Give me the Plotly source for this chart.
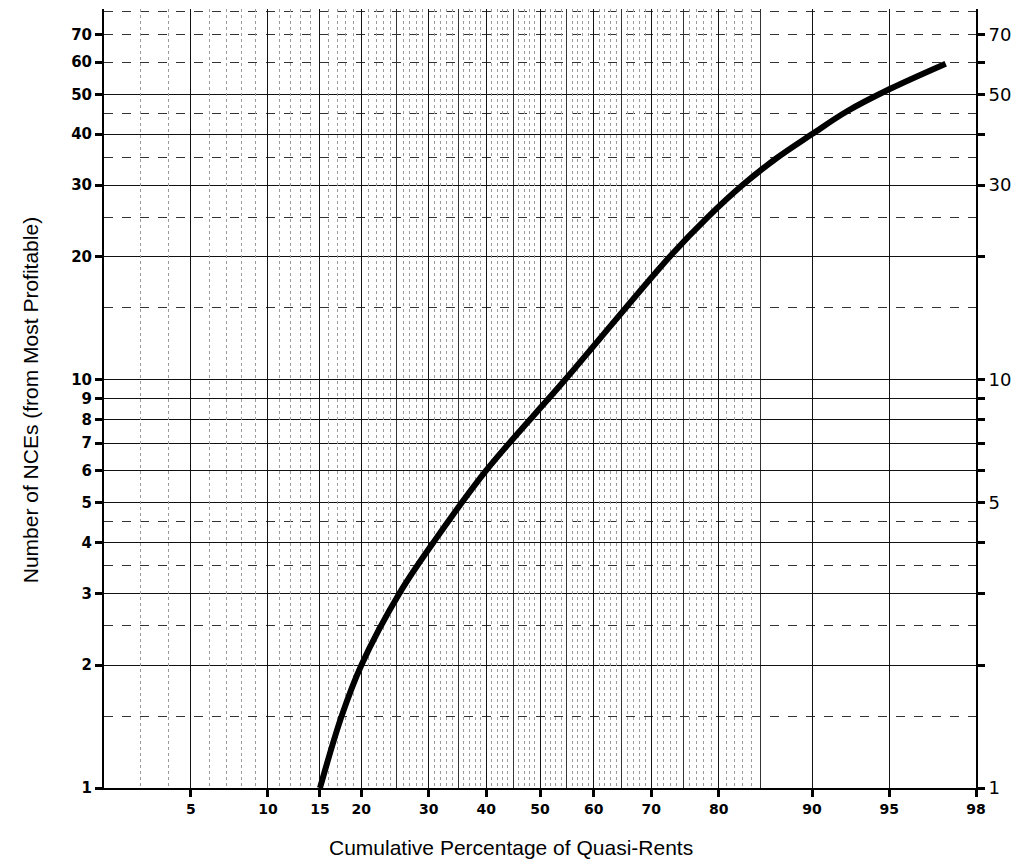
import math
from statistics import NormalDist
import plotly.graph_objects as go

# ---------------- data ----------------
pct = [15, 17.5, 20, 25.4, 30.8, 40, 54.7, 72.9, 78.5, 83, 86.8, 90, 92.6, 95, 97.2]
nce = [1, 1.5, 2, 3, 4, 6, 10, 20, 25, 30, 35, 40, 45.5, 51.5, 59.5]

x_labels = [5, 10, 15, 20, 30, 40, 50, 60, 70, 80, 90, 95, 98]
x_solid_extra = [25, 35, 45, 55, 65, 75, 85]
x_dotted = [p for p in range(3, 85) if p % 5 != 0]

y_left_ticks = [1, 2, 3, 4, 5, 6, 7, 8, 9, 10, 20, 30, 40, 50, 60, 70]
y_right_labels = [1, 5, 10, 30, 50, 70]
y_solid = [1, 2, 3, 4, 5, 6, 7, 8, 9, 10, 20, 30, 40, 50]
y_dashed = [1.5, 2.5, 3.5, 4.5, 15, 25, 35, 45, 60, 70, 80]

x_title = "Cumulative Percentage of Quasi-Rents"
y_title = "Number of NCEs (from Most Profitable)"

# ---------------- scales ----------------
nd = NormalDist()


def probit(p):
    return nd.inv_cdf(p / 100.0)


x_range = [probit(2), probit(98)]
y_range = [0, math.log10(81)]

fig = go.Figure()

# helper empty traces to activate overlay axes
fig.add_trace(go.Scatter(x=[], y=[], xaxis="x2", yaxis="y", showlegend=False, hoverinfo="skip"))
fig.add_trace(go.Scatter(x=[], y=[], xaxis="x", yaxis="y3", showlegend=False, hoverinfo="skip"))
fig.add_trace(go.Scatter(x=[], y=[], xaxis="x", yaxis="y2", showlegend=False, hoverinfo="skip"))

# main curve
fig.add_trace(go.Scatter(
    x=[probit(p) for p in pct], y=nce,
    mode="lines", line=dict(color="black", width=6, shape="spline", smoothing=1.0),
    showlegend=False, hoverinfo="skip",
))

tick_font_left = dict(family="DejaVu Sans", size=15, color="black", weight="bold")
tick_font_bottom = dict(family="DejaVu Sans", size=14, color="black", weight="bold")
tick_font_right = dict(family="DejaVu Sans", size=18, color="black")

fig.update_layout(
    width=1021, height=864,
    margin=dict(l=104, r=42, t=9, b=76),
    paper_bgcolor="white", plot_bgcolor="white",
    showlegend=False,
    xaxis=dict(
        range=x_range, tickmode="array",
        tickvals=[probit(p) for p in x_labels],
        ticktext=[str(p) for p in x_labels],
        tickfont=tick_font_bottom, ticks="outside", ticklen=7, tickwidth=2.5, tickcolor="black",
        showgrid=True, gridcolor="#111", gridwidth=1,
        minor=dict(tickmode="array", tickvals=[probit(p) for p in x_solid_extra],
                   showgrid=True, gridcolor="#333", gridwidth=1, ticks=""),
        showline=True, linecolor="black", linewidth=1.5,
        zeroline=False, fixedrange=True,
    ),
    xaxis2=dict(
        range=x_range, overlaying="x", anchor="y", tickmode="array",
        tickvals=[probit(p) for p in x_dotted],
        showticklabels=False, ticks="", showline=False, zeroline=False,
        showgrid=True, gridcolor="#9a9a9a", gridwidth=1, griddash="dot",
    ),
    yaxis=dict(
        type="log", range=y_range, tickmode="array",
        tickvals=y_left_ticks, ticktext=[str(v) for v in y_left_ticks],
        tickfont=tick_font_left, ticks="outside", ticklen=7, tickwidth=3, tickcolor="black",
        showgrid=False, showline=True, linecolor="black", linewidth=2,
        zeroline=False,
    ),
    yaxis2=dict(
        type="log", range=y_range, overlaying="y", side="right", anchor="x",
        tickmode="array", tickvals=y_left_ticks,
        ticktext=[str(v) if v in y_right_labels else "" for v in y_left_ticks],
        tickfont=tick_font_right, ticks="outside", ticklen=7, tickwidth=3, tickcolor="black",
        showgrid=False, showline=True, linecolor="black", linewidth=2,
        zeroline=False,
    ),
    yaxis3=dict(
        type="log", range=y_range, overlaying="y", anchor="x",
        tickmode="array", tickvals=y_solid,
        showticklabels=False, ticks="", showline=False, zeroline=False,
        showgrid=True, gridcolor="#111", gridwidth=1,
        minor=dict(tickmode="array", tickvals=y_dashed, showgrid=True,
                   gridcolor="#333", gridwidth=1, griddash="dash", ticks=""),
    ),
    annotations=[
        dict(text=y_title, xref="paper", yref="paper", x=-0.0846, y=0.498,
             xanchor="center", yanchor="middle", textangle=-90, showarrow=False,
             font=dict(family="Liberation Sans", size=21, color="black")),
        dict(text=x_title, xref="paper", yref="paper", x=0.467, y=-0.077,
             xanchor="center", yanchor="middle", showarrow=False,
             font=dict(family="Liberation Sans", size=21, color="black")),
    ],
)

fig.write_html("out.html", config={"displayModeBar": False},
               post_script="document.body.style.margin='0px';")
